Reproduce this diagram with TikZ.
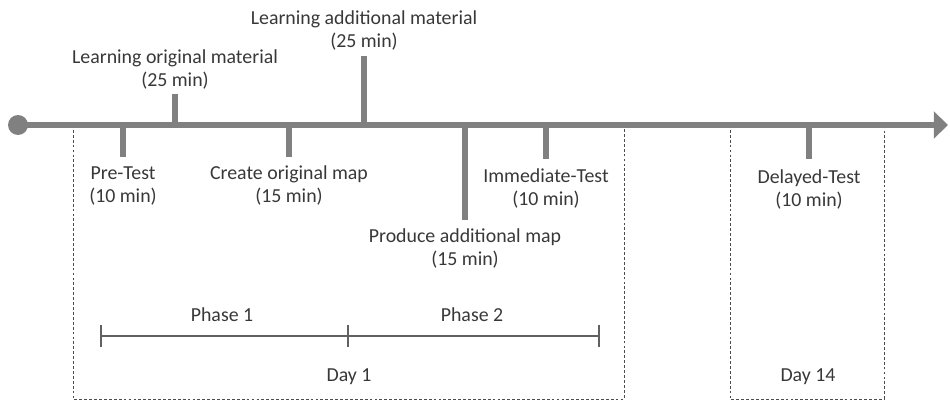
\documentclass[tikz,border=0pt]{standalone}
\usepackage{fontspec}
\setmainfont{Carlito}
\usetikzlibrary{arrows.meta, positioning}

\begin{document}
\begin{tikzpicture}[x=0.02cm, y=-0.02cm,
    lbl/.style={font=\fontsize{11.3}{13.4}\selectfont, text=black!78, align=center, inner sep=0pt},
    axisline/.style={line width=3.4pt, draw=gray, -{Triangle[length=8pt, width=15pt]}},
    tick/.style={line width=3.4pt, draw=gray},
    phasebar/.style={line width=1pt, draw=black!62},
    daybox/.style={draw=black!70, line width=0.55pt, dash pattern=on 1.6pt off 1.2pt}]
  \useasboundingbox (0,0) rectangle (950,402);

  % day boxes
  \draw[daybox] (73,125) rectangle (624,399);
  \draw[daybox] (730,125) rectangle (884,399);
  \node[lbl] (dayone) at (349,377) {Day 1};
  \node[lbl] (dayfourteen) at (808,377) {Day 14};

  % phases
  \coordinate (p0) at (100,336);
  \coordinate (p1) at (349,336);
  \coordinate (p2) at (600,336);
  \draw[phasebar, {Bar[width=13pt]}-{Bar[width=13pt]}] (p0) -- (p1);
  \draw[phasebar, -{Bar[width=13pt]}] (p1) -- (p2);
  \node[lbl] (phaseone) at (222,315) {Phase 1};
  \node[lbl] (phasetwo) at (472,315) {Phase 2};

  % time line
  \coordinate (start) at (18,125);
  \coordinate (stop) at (948,125);
  \draw[axisline] (start) -- (stop);
  \fill[gray] (start) circle[radius=0.2cm];

  % ticks below
  \foreach \nm/\x/\e/\t/\txt in {
      pretest/123/157/166/{Pre-Test\\(10 min)},
      createmap/289/157/165/{Create original map\\(15 min)},
      producemap/465/220/228/{Produce additional map\\(15 min)},
      immtest/546/159/168/{Immediate-Test\\(10 min)},
      delaytest/809/159/169/{Delayed-Test\\(10 min)}}{
    \coordinate (\nm-a) at (\x,125);
    \coordinate (\nm-e) at (\x,\e);
    \draw[tick] (\nm-a) -- (\nm-e);
    \node[lbl, anchor=north] (\nm) at (\x,\t) {\txt};
  }

  % ticks above
  \foreach \nm/\x/\e/\t/\txt in {
      learnorig/175/94/90/{Learning original material\\(25 min)},
      learnadd/364/56/51/{Learning additional material\\(25 min)}}{
    \coordinate (\nm-a) at (\x,125);
    \coordinate (\nm-e) at (\x,\e);
    \draw[tick] (\nm-a) -- (\nm-e);
    \node[lbl, anchor=south] (\nm) at (\x,\t) {\txt};
  }
\end{tikzpicture}
\end{document}
